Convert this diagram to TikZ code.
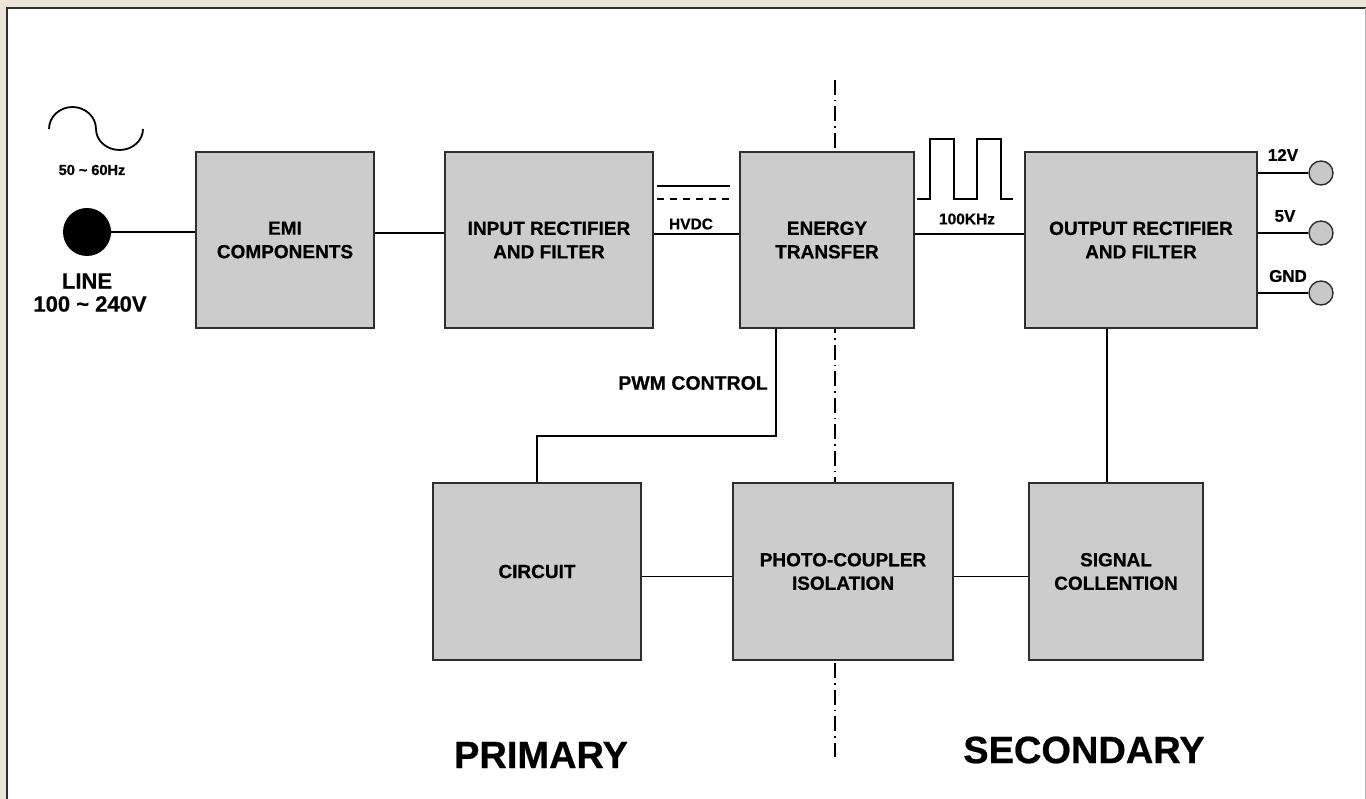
\documentclass[tikz,border=0pt]{standalone}
\usepackage{fontspec}
\setmainfont{Liberation Sans}[BoldFeatures={FakeBold=0.6}]
\begin{document}
\definecolor{paper}{HTML}{EDE5D8}
\definecolor{boxgray}{HTML}{CCCCCC}
\definecolor{termgray}{HTML}{C8C8C8}
\definecolor{edge}{HTML}{2E2E2E}
\begin{tikzpicture}[x=1pt,y=-1pt,
  blk/.style={draw=edge, fill=boxgray, line width=1.8pt, align=center,
    font=\fontsize{19}{23.5}\selectfont\bfseries},
  wire/.style={draw=black, line width=1.4pt},
  term/.style={circle, draw=edge, fill=termgray, line width=1.4pt, minimum size=24pt, inner sep=0pt},
  lbl/.style={inner sep=0pt, font=\bfseries},
  sidelbl/.style={inner sep=0pt, font=\fontsize{38}{44}\selectfont\bfseries}]
  \useasboundingbox (0,0) rectangle (1366,799);
  % sheet and frame
  \fill[paper] (0,0) rectangle (1366,799);
  \fill[white] (7,8) rectangle (1366,799);
  \draw[edge, line width=2pt] (7,799) -- (7,8) -- (1366,8);
  \draw[gray!60, line width=1pt] (1365,8) -- (1365,799);

  % isolation barrier
  \draw[black, line width=1.3pt, dash pattern=on 15pt off 5pt on 1.5pt off 5pt] (835,80) -- (835,757);

  % blocks, top row
  \node[blk, minimum width=178pt, minimum height=176pt] (emi) at (285,240) {EMI\\COMPONENTS};
  \node[blk, minimum width=208pt, minimum height=176pt] (inp) at (549,240) {INPUT RECTIFIER\\AND FILTER};
  \node[blk, minimum width=174pt, minimum height=176pt] (nrg) at (827,240) {ENERGY\\TRANSFER};
  \node[blk, minimum width=232pt, minimum height=176pt] (out) at (1141,240) {OUTPUT RECTIFIER\\AND FILTER};
  % blocks, bottom row
  \node[blk, minimum width=208pt, minimum height=177pt] (circ) at (537,571.5) {\raisebox{-5pt}{CIRCUIT}};
  \node[blk, minimum width=220pt, minimum height=177pt] (photo) at (843,571.5) {PHOTO-COUPLER\\ISOLATION};
  \node[blk, minimum width=174pt, minimum height=177pt] (sig) at (1116,571.5) {SIGNAL\\COLLENTION};

  % mains input: AC wave, frequency, plug and voltage
  \draw[black, line width=1.8pt] (49,129) arc[start angle=180, end angle=0, x radius=23.5pt, y radius=22pt]
    arc[start angle=180, end angle=360, x radius=23.5pt, y radius=21pt];
  \node[lbl, font=\fontsize{14.5}{16}\selectfont\bfseries] (freq) at (92,170) {50 \char`~\ 60Hz};
  \node[circle, fill=black, minimum size=48pt, inner sep=0pt] (plug) at (87,232) {};
  \node[lbl, font=\fontsize{22}{24}\selectfont\bfseries] (line) at (87,281) {LINE};
  \node[lbl, font=\fontsize{22}{24}\selectfont\bfseries] (volt) at (90,304) {100 \char`~\ 240V};

  % main power path
  \draw[wire] (plug.east) -- (plug.east -| emi.west);
  \draw[wire] ([yshift=7pt]emi.east) -- ([yshift=7pt]inp.west);
  \draw[wire] ([yshift=6pt]inp.east) -- ([yshift=6pt]nrg.west);
  \draw[wire] ([yshift=6pt]nrg.east) -- ([yshift=6pt]out.west);

  % HVDC symbol
  \coordinate (dcA) at (657,186);
  \coordinate (dcB) at (730,186);
  \coordinate (dcC) at (657,199);
  \coordinate (dcD) at (730,199);
  \draw[black, line width=1.5pt] (dcA) -- (dcB);
  \draw[black, line width=1.5pt, dash pattern=on 7pt off 6pt] (dcC) -- (dcD);
  \node[lbl, font=\fontsize{15.5}{17}\selectfont\bfseries] (hvdc) at (691,224) {HVDC};

  % square wave
  \draw[black, line width=1.6pt] (917,199) -- (930,199) -- (930,139) -- (954,139) -- (954,199)
    -- (977,199) -- (977,139) -- (1001,139) -- (1001,199) -- (1013,199);
  \node[lbl, font=\fontsize{15.5}{17}\selectfont\bfseries] (khz) at (967,219) {100KHz};

  % outputs
  \node[term] (t12) at (1321,173) {};
  \node[term] (t5) at (1321,233) {};
  \node[term] (tgnd) at (1321,293) {};
  \draw[wire] (t12.west -| out.east) -- (t12.west);
  \draw[wire] (t5.west -| out.east) -- (t5.west);
  \draw[wire] (tgnd.west -| out.east) -- (tgnd.west);
  \node[lbl, font=\fontsize{17}{19}\selectfont\bfseries] (l12) at (1283,155) {12V};
  \node[lbl, font=\fontsize{17}{19}\selectfont\bfseries] (l5) at (1285,216) {5V};
  \node[lbl, font=\fontsize{17}{19}\selectfont\bfseries] (lgnd) at (1288,276) {GND};

  % feedback loop
  \draw[wire] ([xshift=-51pt]nrg.south) -- ++(0,107) -| (circ.north);
  \node[lbl, font=\fontsize{19.5}{21}\selectfont\bfseries, anchor=east] (pwm) at (768,383) {PWM CONTROL};
  \draw[wire] ([xshift=-34pt]out.south) -- ([xshift=-34pt]out.south |- sig.north);
  \draw[wire] ([yshift=-5pt]circ.east) -- ([yshift=-5pt]photo.west);
  \draw[wire] ([yshift=-5pt]photo.east) -- ([yshift=-5pt]sig.west);

  % side labels
  \node[sidelbl] (prim) at (541,755) {PRIMARY};
  \node[sidelbl] (sec) at (1084,750) {SECONDARY};
\end{tikzpicture}
\end{document}
